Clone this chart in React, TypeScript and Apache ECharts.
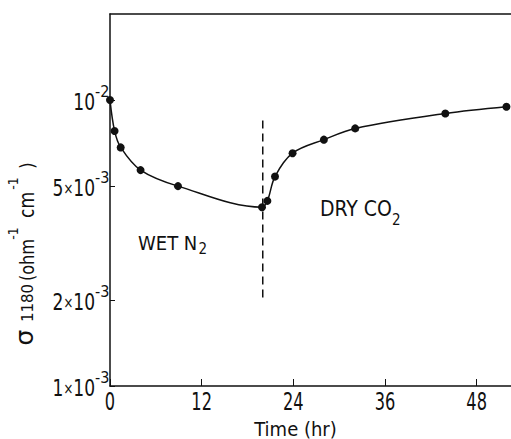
import React, { useEffect, useRef } from "react";
import * as echarts from "echarts";

// Data (time in hours, conductivity in ohm^-1 cm^-1)
const timeHr = [0, 0.6, 1.4, 4.0, 8.9, 19.9, 20.6, 21.6, 23.9, 28.0, 32.1, 43.9, 51.9];
const sigma1180 = [0.0100, 0.0078, 0.00683, 0.00569, 0.0050, 0.00422, 0.00444, 0.0054, 0.00652, 0.00727, 0.00796, 0.00898, 0.00948];

// Gas switch marker (dashed line)
const switchTime = [20, 20];
const switchSigma = [0.00204, 0.0086];

// Axis ticks
const xTicks = [0, 12, 24, 36, 48];
const yTickValues = [0.001, 0.002, 0.005, 0.01];
const yTickMantissa = ["1", "2", "5", ""];
const yTickExponent = ["-3", "-3", "-3", "-2"];

const X_MIN = 0;
const X_MAX = 52.5;
const Y_MIN = 0.001;
const Y_MAX = 0.02;

const FONT = "'DejaVu Sans Condensed', 'DejaVu Sans', sans-serif";
const FONT_WIDE = "'DejaVu Sans', sans-serif";
const INK = "#111";

export default function App() {
  const ref = useRef<HTMLDivElement>(null);

  useEffect(() => {
    document.body.style.margin = "0";
    if (!ref.current) return;
    const chart = echarts.init(ref.current, undefined, { renderer: "svg" });
    const lg = (v: number) => Math.log10(v);
    const yTicksLog = yTickValues.map(lg);

    const option: any = {
      animation: false,
      backgroundColor: "#fff",
      grid: { left: 110, right: 0, top: 14, bottom: 53, containLabel: false },
      xAxis: [
        {
          type: "value",
          min: X_MIN,
          max: X_MAX,
          interval: 12,
          axisLine: { show: true, lineStyle: { color: INK, width: 1.5 } },
          axisTick: { show: true, inside: true, length: 7, lineStyle: { color: INK, width: 1 } },
          axisLabel: { show: false },
          splitLine: { show: false },
        },
        {
          type: "value",
          position: "top",
          min: X_MIN,
          max: X_MAX,
          axisLine: { show: true, lineStyle: { color: INK, width: 1.5 } },
          axisTick: { show: false },
          axisLabel: { show: false },
          splitLine: { show: false },
        },
      ],
      yAxis: {
        type: "value",
        min: lg(Y_MIN),
        max: lg(Y_MAX),
        axisLine: { show: true, lineStyle: { color: INK, width: 1.5 } },
        axisTick: { show: true, inside: true, length: 5, customValues: yTicksLog, lineStyle: { color: INK, width: 1 } },
        axisLabel: { show: false },
        splitLine: { show: false },
      },
      series: [
        {
          type: "line",
          xAxisIndex: 0,
          data: timeHr.map((t, i) => [t, lg(sigma1180[i])]),
          smooth: 0.35,
          symbol: "circle",
          symbolSize: 8,
          itemStyle: { color: INK },
          lineStyle: { color: INK, width: 1.5 },
          z: 3,
        },
        {
          type: "line",
          xAxisIndex: 0,
          data: switchTime.map((t, i) => [t, lg(switchSigma[i])]),
          symbol: "none",
          lineStyle: { color: INK, width: 1.5, type: [8, 5] },
          z: 2,
        },
      ],
    };
    chart.setOption(option);

    const xPx = (v: number) => chart.convertToPixel({ xAxisIndex: 0 }, v) as number;
    const yPx = (v: number) => chart.convertToPixel({ yAxisIndex: 0 }, v) as number;

    const txt = (x: number, y: number, text: string, fontSize: number, extra: any = {}, styleExtra: any = {}) => ({
      type: "text",
      x,
      y,
      silent: true,
      ...extra,
      style: {
        text,
        fontFamily: FONT,
        fontSize,
        fill: INK,
        align: "left",
        verticalAlign: "middle",
        ...styleExtra,
      },
    });

    const graphics: any[] = [];

    // x tick labels
    xTicks.forEach((t) => {
      graphics.push(txt(xPx(t), 401, String(t), 18, { scaleY: 1.35 }, { align: "center" }));
    });

    // y tick labels (mantissa × 10 with superscript exponent)
    yTickValues.forEach((v, i) => {
      const py = yPx(lg(v));
      const m = yTickMantissa[i];
      const base = m ? `{d|${m}}{x|×}{d|10}` : "{d|10}";
      graphics.push(
        txt(95, py + 2.5, base, 19, { scaleY: 1.2 }, {
          align: "right",
          rich: {
            d: { fontFamily: FONT, fontSize: 19, fill: INK },
            x: { fontFamily: FONT, fontSize: 13, fill: INK },
          },
        })
      );
      graphics.push(txt(95, py - 8.5, yTickExponent[i], 16, {}, { align: "left" }));
    });

    // rotated y-axis title: σ1180 (ohm-1 cm-1)
    const rot = { rotation: Math.PI / 2 };
    graphics.push(txt(24, 337.5, "σ", 25, rot, { align: "center", fontFamily: FONT_WIDE }));
    graphics.push(txt(28, 303, "1180", 15, rot, { align: "center", fontFamily: FONT_WIDE }));
    graphics.push(txt(26.5, 260, "(ohm", 18, { ...rot, scaleY: 1.1 }, { align: "center" }));
    graphics.push(txt(12.5, 233.5, "-1", 14, rot, { align: "center" }));
    graphics.push(txt(26.5, 205, "cm", 19, { ...rot, scaleY: 1.1 }, { align: "center" }));
    graphics.push(txt(12.5, 183.5, "-1", 14, rot, { align: "center" }));
    graphics.push(txt(26.5, 165.5, ")", 18, { ...rot, scaleY: 1.1 }, { align: "center" }));

    // x-axis title
    graphics.push(txt(295.5, 429, "Time (hr)", 20, {}, { align: "center" }));

    // annotations
    graphics.push(txt(138, 243, "WET N", 20));
    graphics.push(txt(198.5, 248.5, "2", 15));
    graphics.push(txt(320, 209, "DRY CO", 21));
    graphics.push(txt(392, 219.5, "2", 15));

    chart.setOption({ graphic: graphics });

    return () => chart.dispose();
  }, []);

  return (
    <div
      ref={ref}
      style={{ position: "fixed", left: 0, top: 0, width: 511, height: 439, background: "#fff" }}
    />
  );
}
